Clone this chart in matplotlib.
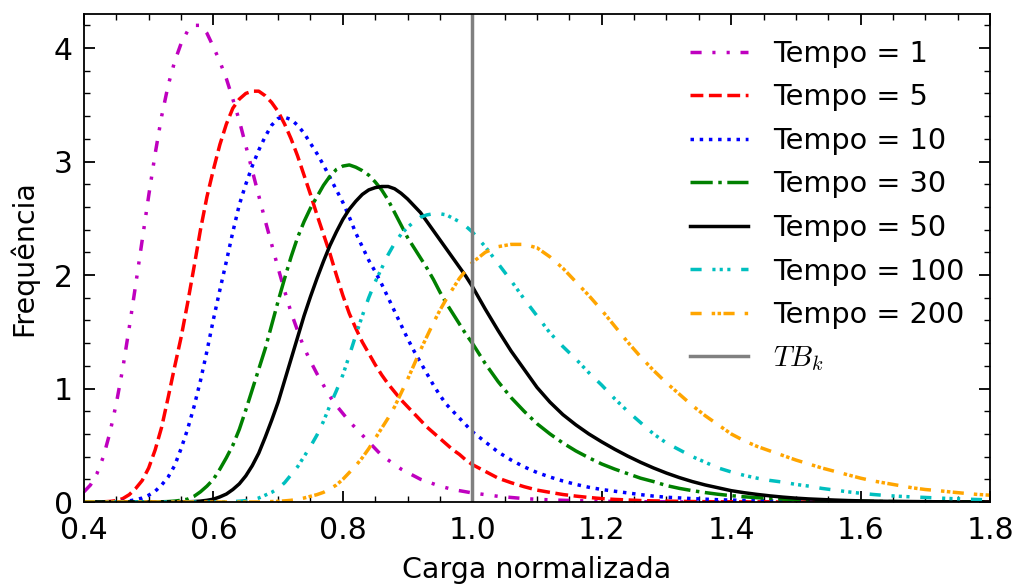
import numpy as np
import matplotlib
matplotlib.use('Agg')
import matplotlib.pyplot as plt
from matplotlib.ticker import MultipleLocator

plt.rcParams['font.family'] = ['DejaVu Sans']
plt.rcParams['mathtext.fontset'] = 'cm'

# Carga normalizada: read every 0.01 up to 1.0, every 0.02 after
carga = np.round(np.concatenate([np.linspace(0.40, 1.00, 61),
                                 np.linspace(1.02, 1.80, 40)]), 2)

# Frequency values
tempo_1 = [0.09, 0.15, 0.25, 0.40, 0.61, 0.87, 1.18, 1.54, 1.92, 2.31,
           2.70, 3.07, 3.40, 3.67, 3.88, 4.04, 4.15, 4.20, 4.20, 4.13,
           4.01, 3.88, 3.73, 3.55, 3.36, 3.14, 2.92, 2.70, 2.48, 2.27,
           2.06, 1.86, 1.67, 1.51, 1.36, 1.24, 1.13, 1.03, 0.93, 0.85,
           0.78, 0.71, 0.65, 0.59, 0.53, 0.47, 0.41, 0.37, 0.33, 0.29,
           0.26, 0.23, 0.20, 0.18, 0.16, 0.14, 0.125, 0.11, 0.10, 0.09,
           0.08,
           0.065, 0.05, 0.04, 0.03, 0.024, 0.019, 0.015, 0.012, 0.009, 0.007,
           0.005, 0.004, 0.003, 0.002, 0.002, 0.001, 0.001, 0.001, 0.001, 0,
           0, 0, 0, 0, 0, 0, 0, 0, 0, 0,
           0, 0, 0, 0, 0, 0, 0, 0, 0, 0]
tempo_5 = [0, 0, 0, 0.002, 0.005, 0.012, 0.03, 0.065, 0.12, 0.19,
           0.30, 0.46, 0.66, 0.92, 1.19, 1.45, 1.75, 2.07, 2.40, 2.69,
           2.93, 3.15, 3.33, 3.47, 3.55, 3.60, 3.62, 3.62, 3.58, 3.52,
           3.44, 3.33, 3.20, 3.05, 2.88, 2.71, 2.53, 2.36, 2.19, 2.00,
           1.82, 1.66, 1.53, 1.41, 1.31, 1.21, 1.12, 1.04, 0.97, 0.90,
           0.84, 0.78, 0.72, 0.66, 0.61, 0.56, 0.51, 0.46, 0.42, 0.37,
           0.33,
           0.27, 0.21, 0.17, 0.135, 0.105, 0.085, 0.066, 0.052, 0.04, 0.03,
           0.023, 0.018, 0.013, 0.01, 0.008, 0.006, 0.004, 0.003, 0.002, 0.002,
           0.001, 0.001, 0.001, 0, 0, 0, 0, 0, 0, 0,
           0, 0, 0, 0, 0, 0, 0, 0, 0, 0]
tempo_10 = [0, 0, 0, 0, 0, 0.002, 0.005, 0.01, 0.02, 0.035,
            0.06, 0.095, 0.15, 0.22, 0.32, 0.47, 0.64, 0.84, 1.07, 1.33,
            1.61, 1.87, 2.12, 2.38, 2.62, 2.80, 2.96, 3.10, 3.22, 3.32,
            3.38, 3.39, 3.37, 3.32, 3.25, 3.16, 3.07, 2.97, 2.86, 2.75,
            2.64, 2.51, 2.37, 2.25, 2.13, 2.03, 1.92, 1.80, 1.68, 1.56,
            1.44, 1.33, 1.23, 1.13, 1.03, 0.94, 0.86, 0.80, 0.74, 0.68,
            0.62,
            0.53, 0.44, 0.37, 0.31, 0.26, 0.22, 0.185, 0.155, 0.13, 0.11,
            0.095, 0.08, 0.065, 0.052, 0.042, 0.036, 0.03, 0.025, 0.02, 0.017,
            0.014, 0.011, 0.009, 0.007, 0.005, 0.004, 0.003, 0.002, 0.002, 0.001,
            0.001, 0.001, 0.001, 0, 0, 0, 0, 0, 0, 0]
tempo_30 = [0, 0, 0, 0, 0, 0, 0, 0, 0, 0,
            0, 0.001, 0.002, 0.004, 0.008, 0.015, 0.025, 0.05, 0.09, 0.14,
            0.20, 0.29, 0.39, 0.50, 0.64, 0.81, 0.99, 1.17, 1.35, 1.56,
            1.77, 1.97, 2.16, 2.33, 2.47, 2.59, 2.69, 2.79, 2.87, 2.93,
            2.96, 2.97, 2.95, 2.92, 2.88, 2.82, 2.75, 2.66, 2.55, 2.44,
            2.33, 2.24, 2.15, 2.06, 1.96, 1.85, 1.75, 1.66, 1.57, 1.48,
            1.40,
            1.22, 1.06, 0.92, 0.80, 0.69, 0.60, 0.52, 0.45, 0.39, 0.335,
            0.29, 0.25, 0.21, 0.18, 0.145, 0.12, 0.10, 0.083, 0.068, 0.056,
            0.046, 0.038, 0.031, 0.025, 0.02, 0.016, 0.013, 0.01, 0.008, 0.006,
            0.005, 0.004, 0.003, 0.002, 0.002, 0.001, 0.001, 0.001, 0.001, 0.001]
tempo_50 = [0, 0, 0, 0, 0, 0, 0, 0, 0, 0,
            0, 0, 0, 0, 0, 0, 0.002, 0.004, 0.008, 0.015,
            0.025, 0.045, 0.07, 0.11, 0.16, 0.23, 0.32, 0.43, 0.57, 0.72,
            0.88, 1.07, 1.26, 1.45, 1.64, 1.81, 1.97, 2.12, 2.26, 2.38,
            2.49, 2.58, 2.65, 2.71, 2.75, 2.77, 2.78, 2.78, 2.76, 2.72,
            2.67, 2.61, 2.55, 2.47, 2.39, 2.31, 2.23, 2.15, 2.07, 1.99,
            1.90,
            1.70, 1.51, 1.33, 1.17, 1.01, 0.88, 0.77, 0.68, 0.60, 0.53,
            0.465, 0.405, 0.35, 0.30, 0.255, 0.215, 0.18, 0.15, 0.125, 0.10,
            0.082, 0.067, 0.054, 0.043, 0.034, 0.027, 0.022, 0.017, 0.013, 0.01,
            0.008, 0.006, 0.005, 0.004, 0.003, 0.002, 0.002, 0.001, 0.001, 0.001]
tempo_100 = [0, 0, 0, 0, 0, 0, 0, 0, 0, 0,
             0, 0, 0, 0, 0, 0, 0, 0, 0, 0,
             0, 0, 0.002, 0.004, 0.007, 0.012, 0.02, 0.035, 0.06, 0.085,
             0.12, 0.17, 0.24, 0.31, 0.40, 0.49, 0.59, 0.71, 0.85, 0.98,
             1.12, 1.29, 1.47, 1.64, 1.80, 1.94, 2.06, 2.18, 2.28, 2.36,
             2.42, 2.47, 2.51, 2.53, 2.54, 2.54, 2.53, 2.50, 2.47, 2.43,
             2.38,
             2.25, 2.10, 1.95, 1.79, 1.64, 1.49, 1.37, 1.26, 1.14, 1.03,
             0.91, 0.80, 0.70, 0.60, 0.52, 0.46, 0.40, 0.35, 0.30, 0.265,
             0.235, 0.21, 0.19, 0.175, 0.155, 0.14, 0.12, 0.105, 0.09, 0.077,
             0.066, 0.057, 0.05, 0.045, 0.04, 0.035, 0.03, 0.026, 0.022, 0.019]
tempo_200 = [0, 0, 0, 0, 0, 0, 0, 0, 0, 0,
             0, 0, 0, 0, 0, 0, 0, 0, 0, 0,
             0, 0, 0, 0, 0, 0, 0, 0, 0.002, 0.004,
             0.006, 0.01, 0.015, 0.024, 0.035, 0.05, 0.065, 0.085, 0.115, 0.15,
             0.20, 0.26, 0.32, 0.39, 0.47, 0.56, 0.65, 0.74, 0.84, 0.96,
             1.08, 1.21, 1.34, 1.46, 1.58, 1.69, 1.79, 1.88, 1.97, 2.04,
             2.11,
             2.20, 2.25, 2.27, 2.27, 2.24, 2.16, 2.06, 1.94, 1.82, 1.69,
             1.55, 1.41, 1.28, 1.16, 1.05, 0.95, 0.85, 0.76, 0.68, 0.60,
             0.54, 0.49, 0.45, 0.41, 0.37, 0.335, 0.30, 0.27, 0.24, 0.21,
             0.185, 0.165, 0.145, 0.125, 0.11, 0.10, 0.088, 0.077, 0.067, 0.06]

series = [tempo_1, tempo_5, tempo_10, tempo_30, tempo_50, tempo_100, tempo_200]
labels = ['Tempo = 1', 'Tempo = 5', 'Tempo = 10', 'Tempo = 30',
          'Tempo = 50', 'Tempo = 100', 'Tempo = 200']
tb_k = 1.0

colors = ['m', 'r', 'b', 'g', 'k', 'c', 'orange']
styles = [(0, (3.2, 3.1, 0.9, 3.2, 0.9, 3.1)),
          '--',
          ':',
          '-.',
          '-',
          (0, (3.2, 3.1, 0.9, 1.2, 0.9, 1.3, 0.9, 3.1)),
          (0, (3.2, 2.9, 1.0, 0.7, 1.0, 0.7))]

fig = plt.figure(figsize=(10.14, 5.84), dpi=100)
ax = fig.add_axes([84 / 1014, 82 / 584, 906 / 1014, 488 / 584])

for y, lab, c, ls in zip(series, labels, colors, styles):
    assert len(y) == len(carga)
    ax.plot(carga, y, color=c, linestyle=ls, linewidth=2.5, label=lab)

ax.axvline(tb_k, color='gray', linewidth=2.5, label=r'$TB_k$')

ax.set_xlim(0.4, 1.8)
ax.set_ylim(0, 4.3)
ax.xaxis.set_major_locator(MultipleLocator(0.2))
ax.xaxis.set_minor_locator(MultipleLocator(0.05))
ax.yaxis.set_major_locator(MultipleLocator(1))
ax.yaxis.set_minor_locator(MultipleLocator(0.2))
ax.set_xticklabels([f'{v:.1f}' for v in ax.get_xticks()])

ax.tick_params(which='both', direction='in', top=True, right=True, labelsize=21.5)
ax.tick_params(which='major', length=8, width=1.3)
ax.tick_params(which='minor', length=4, width=1.0)
ax.tick_params(axis='x', which='major', pad=10)
ax.tick_params(axis='y', which='major', pad=8)
for sp in ax.spines.values():
    sp.set_linewidth(1.3)

ax.set_xlabel('Carga normalizada', fontsize=20.5, labelpad=8)
ax.set_ylabel('Frequência', fontsize=20.5, labelpad=11)

ax.legend(loc='upper right', frameon=False, fontsize=20.7,
          handlelength=2.0, handletextpad=0.87, labelspacing=0.54)

fig.savefig('out.png', dpi=100)
